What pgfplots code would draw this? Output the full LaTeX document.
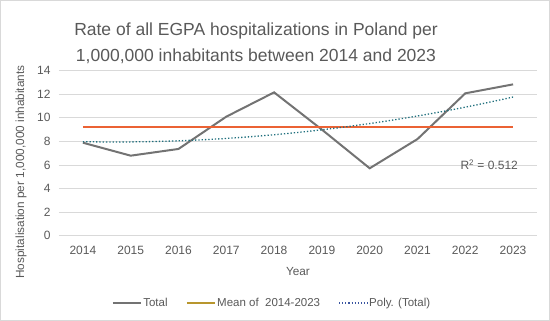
\documentclass[border=0pt]{standalone}
\usepackage{pgfplots}
\pgfplotsset{compat=1.18}
\usepackage{fontspec}
\setmainfont{Liberation Sans}
\definecolor{txt}{HTML}{595959}
\definecolor{totalc}{HTML}{737373}
\definecolor{meanc}{HTML}{EB6234}
\definecolor{meanleg}{HTML}{B8962E}
\definecolor{polyc}{HTML}{1F6F7D}
\definecolor{polyleg}{HTML}{3A55A0}
\definecolor{gridc}{HTML}{D9D9D9}
\begin{document}
\begin{tikzpicture}
\draw[gray!30, line width=0.8pt] (0.5pt,0.5pt) rectangle (549.5pt,320.5pt);
\path[use as bounding box] (0,0) rectangle (550pt,321pt);
\node[txt, font=\fontsize{17.5}{20}\selectfont] at (256pt,290pt) {Rate of all EGPA hospitalizations in Poland per};
\node[txt, font=\fontsize{17.5}{20}\selectfont] at (256pt,265pt) {1,000,000 inhabitants between 2014 and 2023};
\begin{axis}[
  at={(59pt,85.3pt)}, anchor=south west,
  width=478pt, height=165pt, scale only axis,
  xmin=2013.5, xmax=2023.5, ymin=0, ymax=14,
  xtick={2014,...,2023}, ytick={0,2,...,14},
  /pgf/number format/1000 sep={},
  /pgf/number format/assume math mode=true,
  ymajorgrids, grid style={gridc, line width=0.8pt},
  axis line style={draw=none},
  major tick length=0pt,
  ticklabel style={txt, font=\fontsize{12}{14}\selectfont},
  xticklabel style={yshift=-7pt},
  yticklabel style={xshift=-5pt},
  xlabel={Year}, ylabel={Hospitalisation per 1,000,000 inhabitants},
  label style={txt, font=\fontsize{11.8}{14}\selectfont},
  xlabel style={at={(axis description cs:0.5,-0.214)}, anchor=center},
  ylabel style={at={(axis description cs:-0.0795,0.386)}, anchor=center},
  legend columns=3,
  legend style={at={(axis description cs:0.445,-0.408)}, anchor=center, draw=none,
    font=\fontsize{11.5}{13}\selectfont, text=txt,
    nodes={inner sep=1.5pt},
    /tikz/every odd column/.append style={column sep=0pt},
    /tikz/every even column/.append style={column sep=17pt}},
  legend image code/.code={\draw[#1] (0pt,0pt) -- (28pt,0pt);},
  clip=false,
]
\addplot[totalc, line width=2pt] coordinates {
(2014,7.89) (2015,6.79) (2016,7.36) (2017,10.1) (2018,12.16)
(2019,9.0) (2020,5.72) (2021,8.2) (2022,12.08) (2023,12.84)};
\addlegendentry{Total}
\addplot[meanc, line width=2pt, forget plot] coordinates {(2014,9.19) (2023,9.19)};
\addplot[polyc, line width=1.3pt, dotted, smooth, forget plot] coordinates {
(2014,7.976) (2014.5,7.954) (2015,7.959) (2015.5,7.992) (2016,8.051) (2016.5,8.139)
(2017,8.253) (2017.5,8.396) (2018,8.565) (2018.5,8.762) (2019,8.987) (2019.5,9.238)
(2020,9.517) (2020.5,9.823) (2021,10.157) (2021.5,10.518) (2022,10.907) (2022.5,11.322)
(2023,11.766)};
\addlegendimage{meanleg, line width=1.6pt}
\addlegendentry{Mean of\ \ 2014-2023}
\addlegendimage{polyleg, line width=1.1pt, dotted}
\addlegendentry{Poly. (Total)}
\node[txt, font=\fontsize{12}{14}\selectfont] at (axis cs:2022.5,6.0) {R\textsuperscript{2} = 0.512};
\end{axis}
\end{tikzpicture}
\end{document}
